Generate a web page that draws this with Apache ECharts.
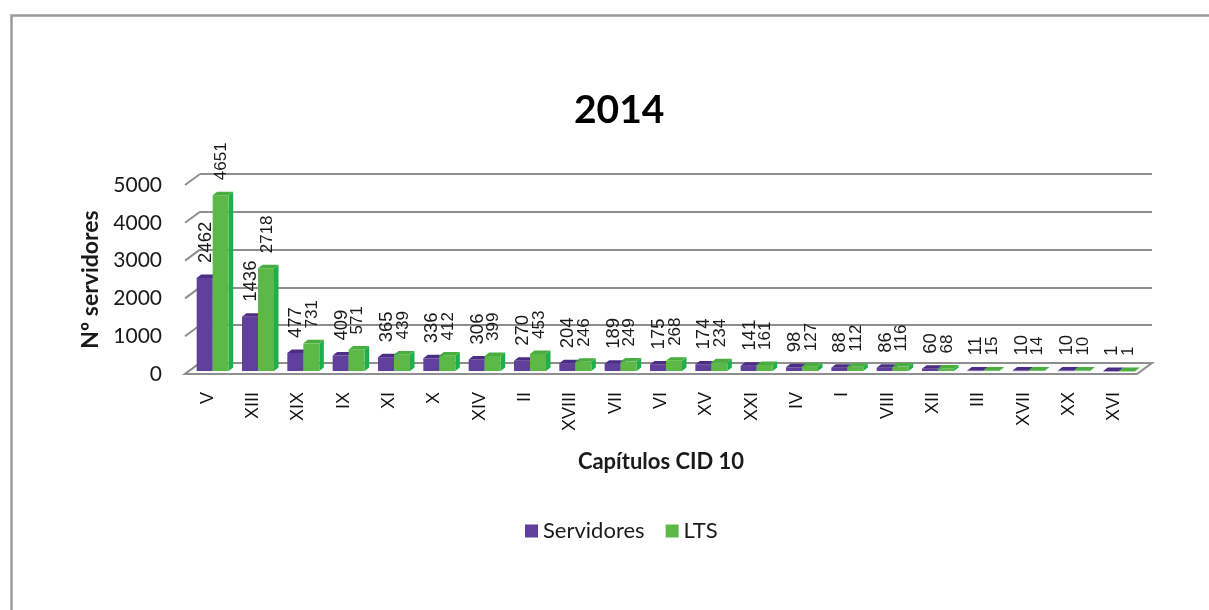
<!DOCTYPE html>
<html>
<head>
<meta charset="utf-8">
<script src="https://cdn.jsdelivr.net/npm/echarts@6/dist/echarts.min.js"></script>
<style>
html,body{margin:0;padding:0;background:#fff;}
#chart{width:1209px;height:610px;}
</style>
</head>
<body>
<div id="chart"></div>
<script>
// ---- data ----
const categories = ['V','XIII','XIX','IX','XI','X','XIV','II','XVIII','VII','VI','XV','XXI','IV','I','VIII','XII','III','XVII','XX','XVI'];
const servidores = [2462,1436,477,409,365,336,306,270,204,189,175,174,141,98,88,86,60,11,10,10,1];
const lts        = [4651,2718,731,571,439,412,399,453,246,249,268,234,161,127,112,116,68,15,14,10,1];
const yTicks = [0,1000,2000,3000,4000,5000];
const titleText = '2014';
const yTitle = 'Nº servidores';
const xTitle = 'Capítulos CID 10';
const seriesNames = ['Servidores','LTS'];

// ---- style ----
const FRONT = {left:185, right:72, top:185, bottom:236};
const WALL = {dx:15, dy:-11};
const PLANE = {dx:5, dy:-3};
const DEPTH = {dx:4.5, dy:-3.5};
const gridColor = '#8e8e8e';
const colors = {
  Servidores:{front:'#60409b', top:'#4b2d85', side:'#4a2f88', label:18.5},
  LTS:{front:'#5cb947', top:'#49ad3f', side:'#1fae4b', label:17}
};
const uiFont = 'Lato, "Open Sans", sans-serif';
const dataFont = '"Liberation Sans", Arial, sans-serif';

const chart = echarts.init(document.getElementById('chart'));

function barRender(name, side){
  const c = colors[name];
  return function(params, api){
    const idx = api.value(0), v = api.value(1);
    const topP = api.coord([idx, v]);
    const baseP = api.coord([idx, 0]);
    const band = api.size([1,0])[0];
    const w = band*0.353;
    const x0 = topP[0] + PLANE.dx + (side === 0 ? -w : 0);
    const top = topP[1] + PLANE.dy;
    const bottom = baseP[1] + PLANE.dy;
    const children = [
      {type:'polygon', shape:{points:[[x0+w,top],[x0+w+DEPTH.dx,top+DEPTH.dy],[x0+w+DEPTH.dx,bottom+DEPTH.dy],[x0+w,bottom]]}, style:{fill:c.side}},
      {type:'rect', shape:{x:x0, y:top, width:w, height:Math.max(bottom-top,0.5)}, style:{fill:c.front}},
      {type:'polygon', shape:{points:[[x0,top],[x0+w,top],[x0+w+DEPTH.dx,top+DEPTH.dy],[x0+DEPTH.dx,top+DEPTH.dy]]}, style:{fill:c.top}},
      {type:'text', x:x0+w/2+1, y:top-15, rotation:Math.PI/2,
        style:{text:String(v), fill:'#1a1a1a', font:c.label+'px '+dataFont, align:'left', verticalAlign:'middle'}}
    ];
    return {type:'group', children};
  };
}

function wallRender(params, api){
  const v = api.value(1);
  const band = api.size([1,0])[0];
  const p0 = api.coord([0, v]);
  const xl = p0[0] - band/2;
  const y = p0[1];
  const children = [
    {type:'line', shape:{x1:xl, y1:y, x2:xl+WALL.dx, y2:y+WALL.dy}, style:{stroke:gridColor, lineWidth:2}}
  ];
  if (v === 0) {
    const pr = api.coord([categories.length-1, 0]);
    const xr = pr[0] + band/2;
    children.push({type:'polygon', shape:{points:[[xl,y],[xr,y],[xr+WALL.dx,y+WALL.dy],[xl+WALL.dx,y+WALL.dy]]}, style:{fill:'#fbfbfb', stroke:gridColor, lineWidth:2}});
  }
  return {type:'group', children};
}

chart.setOption({
  animation:false,
  title:{text:titleText, left:569, top:86, textStyle:{fontFamily:uiFont, fontSize:39, fontWeight:'bold', color:'#000'}},
  legend:{data:seriesNames, left:520, top:515, itemWidth:13, itemHeight:13, itemGap:21, icon:'rect',
    textStyle:{fontFamily:uiFont, fontSize:22, color:'#1a1a1a'}},
  graphic:[{type:'rect', left:9, top:13, shape:{width:1300, height:700}, style:{fill:'none', stroke:'#9a9a9a', lineWidth:2.5}, silent:true, z:-10}],
  grid:[
    {left:FRONT.left, right:FRONT.right, top:FRONT.top, bottom:FRONT.bottom},
    {left:FRONT.left+WALL.dx, right:FRONT.right-WALL.dx, top:FRONT.top+WALL.dy, bottom:FRONT.bottom-WALL.dy}
  ],
  xAxis:[
    {type:'category', gridIndex:0, data:categories, axisLine:{show:false}, axisTick:{show:false},
      axisLabel:{rotate:90, margin:18, fontFamily:dataFont, fontSize:18, color:'#111', interval:0},
      name:xTitle, nameLocation:'middle', nameGap:77,
      nameTextStyle:{fontFamily:uiFont, fontSize:22, fontWeight:'bold', color:'#1a1a1a'}},
    {type:'category', gridIndex:1, data:categories, show:false}
  ],
  yAxis:[
    {type:'value', gridIndex:0, min:0, max:5000, interval:1000, splitLine:{show:false}, axisLine:{show:false}, axisTick:{show:false},
      axisLabel:{margin:23, fontFamily:uiFont, fontSize:21, color:'#1a1a1a', formatter:v=>String(v)},
      name:yTitle, nameLocation:'middle', nameGap:81, nameRotate:90,
      nameTextStyle:{fontFamily:uiFont, fontSize:23, fontWeight:'bold', color:'#1a1a1a'}},
    {type:'value', gridIndex:1, min:0, max:5000, interval:1000, axisLabel:{show:false}, axisLine:{show:false}, axisTick:{show:false},
      splitLine:{show:true, lineStyle:{color:gridColor, width:2}}}
  ],
  series:[
    {type:'custom', name:'wall', xAxisIndex:0, yAxisIndex:0, renderItem:wallRender, data:yTicks.map(v=>[0,v]), silent:true, z:1, itemStyle:{color:gridColor}},
    {type:'custom', name:seriesNames[0], xAxisIndex:0, yAxisIndex:0, renderItem:barRender('Servidores',0), data:servidores.map((v,i)=>[i,v]), z:3, itemStyle:{color:colors.Servidores.front}},
    {type:'custom', name:seriesNames[1], xAxisIndex:0, yAxisIndex:0, renderItem:barRender('LTS',1), data:lts.map((v,i)=>[i,v]), z:4, itemStyle:{color:colors.LTS.front}}
  ]
});
</script>
</body>
</html>
